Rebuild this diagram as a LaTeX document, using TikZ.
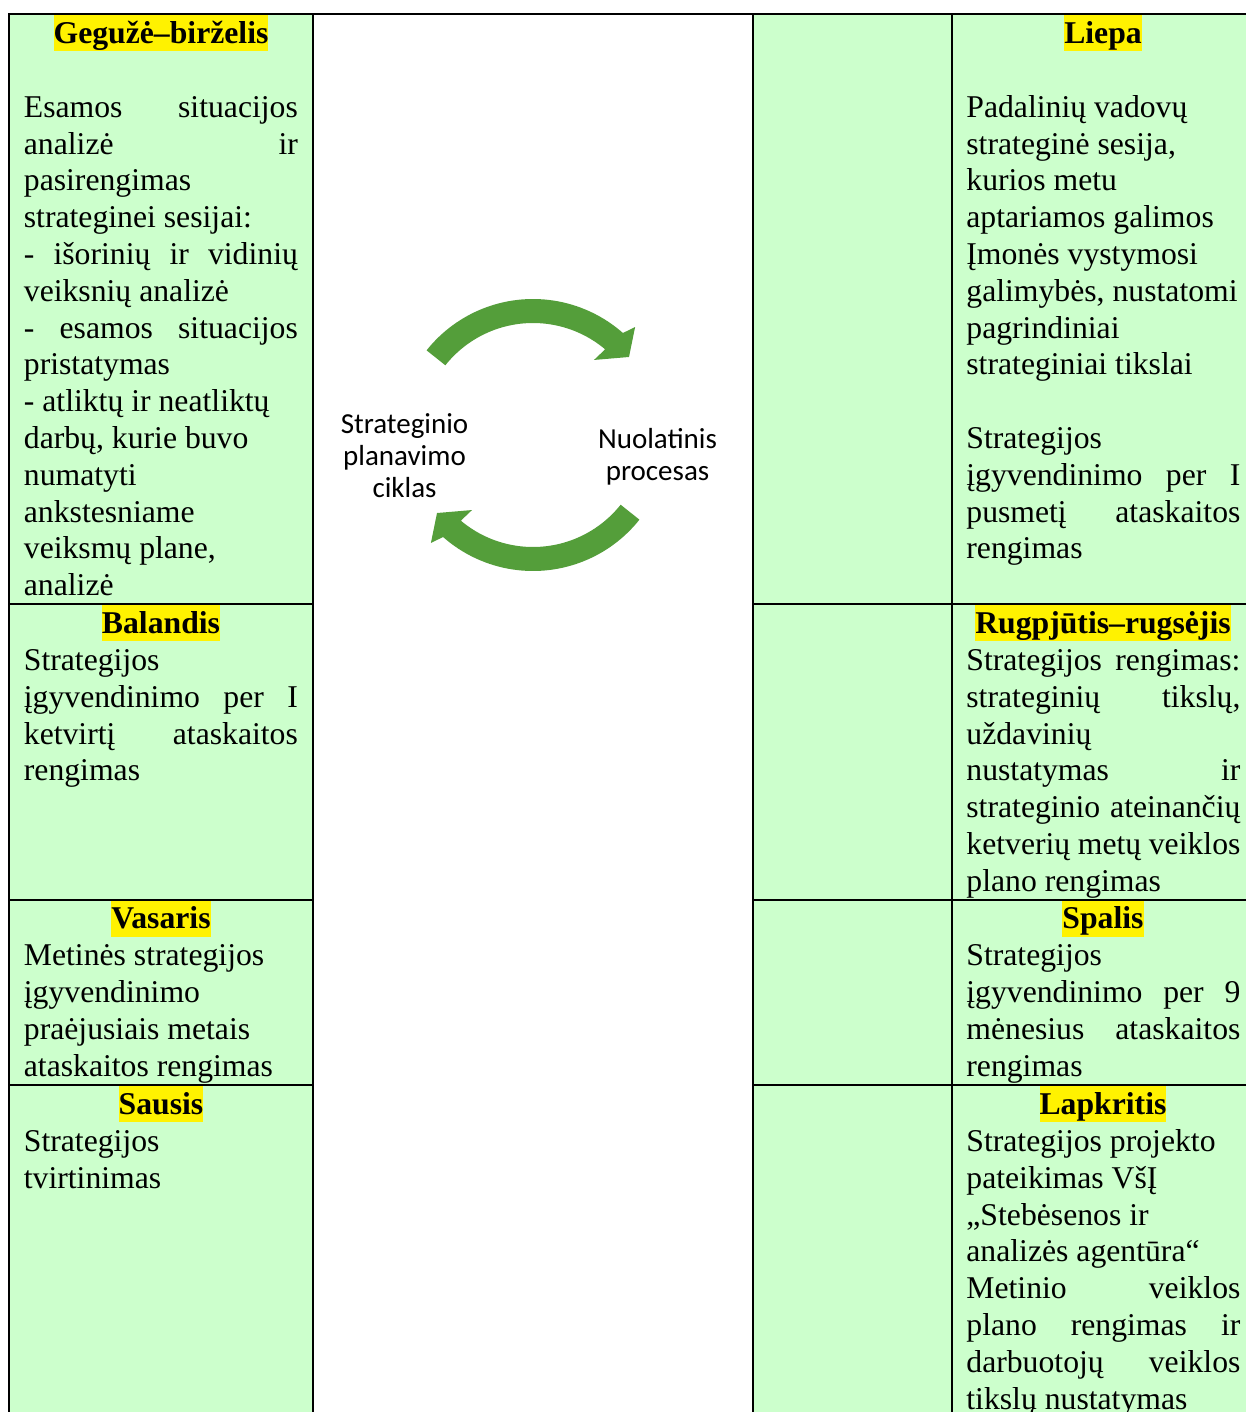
\documentclass[tikz,border=0pt]{standalone}
\usepackage{fontspec}
\setmainfont{Liberation Serif}
\newfontfamily\calibri{Carlito}
\definecolor{cellgreen}{RGB}{204,255,204}
\definecolor{arrowgreen}{RGB}{84,158,58}
\newcommand{\jline}[1]{\makebox[137pt][s]{#1}}

\begin{document}
\begin{tikzpicture}[x=0.5pt,y=-0.5pt,
    grid/.style={line width=1pt},
    month/.style={fill=yellow,inner sep=0pt,text height=14pt,text depth=4pt,anchor=base,
                  font=\fontsize{15.85}{18.4}\selectfont\bfseries},
    cell/.style={inner sep=0pt,anchor=north west,align=left,font=\fontsize{15.85}{18.4}\selectfont},
    cyclabel/.style={inner sep=0pt,anchor=north,align=center,font=\calibri\fontsize{14.5}{16}\selectfont},
    cyclearrow/.style={fill=arrowgreen}]

  \useasboundingbox (0,0) rectangle (1246,1412);

  % table background and rules
  \fill[cellgreen] (9,14) rectangle (312.5,1420);
  \fill[cellgreen] (752.5,14) rectangle (1254,1420);
  \draw[grid] (9,1420) -- (9,14.3) -- (1254,14.3);
  \foreach \x in {312.5,752.5,951.5}
    \draw[grid] (\x,14.3) -- (\x,1420);
  \foreach \y in {604,899.5,1085} {
    \draw[grid] (9,\y) -- (312.5,\y);
    \draw[grid] (752.5,\y) -- (1254,\y);
  }

  % left column
  \node[month] (geg) at (161,43.3) {Gegužė–birželis};
  \node[cell] (gegtxt) at (23.5,91.1) {\strut\jline{Esamos situacijos}\\
    \jline{analizė ir}\\
    pasirengimas\\
    strateginei sesijai:\\
    \jline{- išorinių ir vidinių}\\
    veiksnių analizė\\
    \jline{- esamos situacijos}\\
    pristatymas\\
    - atliktų ir neatliktų\\
    darbų, kurie buvo\\
    numatyti\\
    ankstesniame\\
    veiksmų plane,\\
    analizė};

  \node[month] (bal) at (161,633.3) {Balandis};
  \node[cell] (baltxt) at (23.5,644.3) {\strut Strategijos\\
    \jline{įgyvendinimo per I}\\
    \jline{ketvirtį ataskaitos}\\
    rengimas};

  \node[month] (vas) at (161,928.8) {Vasaris};
  \node[cell] (vastxt) at (23.5,939.8) {\strut Metinės strategijos\\
    įgyvendinimo\\
    praėjusiais metais\\
    ataskaitos rengimas};

  \node[month] (sau) at (161,1114.3) {Sausis};
  \node[cell] (sautxt) at (23.5,1125.3) {\strut Strategijos\\
    tvirtinimas};

  % right column
  \node[month] (lie) at (1103,43.3) {Liepa};
  \node[cell] (lietxt) at (966,91.1) {\strut Padalinių vadovų\\
    strateginė sesija,\\
    kurios metu\\
    aptariamos galimos\\
    Įmonės vystymosi\\
    galimybės, nustatomi\\
    pagrindiniai\\
    strateginiai tikslai\\
    \strut\\
    Strategijos\\
    \jline{įgyvendinimo per I}\\
    \jline{pusmetį ataskaitos}\\
    rengimas};

  \node[month] (rug) at (1103,633.3) {Rugpjūtis–rugsėjis};
  \node[cell] (rugtxt) at (966,644.3) {\strut\jline{Strategijos rengimas:}\\
    \jline{strateginių tikslų,}\\
    uždavinių\\
    \jline{nustatymas ir}\\
    \jline{strateginio ateinančių}\\
    \jline{ketverių metų veiklos}\\
    plano rengimas};

  \node[month] (spa) at (1103,928.8) {Spalis};
  \node[cell] (spatxt) at (966,939.8) {\strut Strategijos\\
    \jline{įgyvendinimo per 9}\\
    \jline{mėnesius ataskaitos}\\
    rengimas};

  \node[month] (lap) at (1103,1114.3) {Lapkritis};
  \node[cell] (laptxt) at (966,1125.3) {\strut Strategijos projekto\\
    pateikimas VšĮ\\
    „Stebėsenos ir\\
    analizės agentūra“\\
    \jline{Metinio veiklos}\\
    \jline{plano rengimas ir}\\
    \jline{darbuotojų veiklos}\\
    tikslų nustatymas};

  % cycle in the middle
  \foreach \r in {0,180}
    \fill[cyclearrow,shift={(533,435)},rotate=\r]
      (-141.5:136) arc[start angle=-141.5,end angle=-48.6,radius=136]
      -- (-46.6:148.6) -- (-39.1:123.7) -- (-50.9:96.7) -- (-49.9:112)
      arc[start angle=-49.9,end angle=-141.5,radius=112] -- cycle;

  \node[cyclabel] (ciklas) at (404.5,410.6) {\strut Strateginio\\ planavimo\\ ciklas};
  \node[cyclabel] (procesas) at (657.5,425.6) {\strut Nuolatinis\\ procesas};

\end{tikzpicture}
\end{document}
